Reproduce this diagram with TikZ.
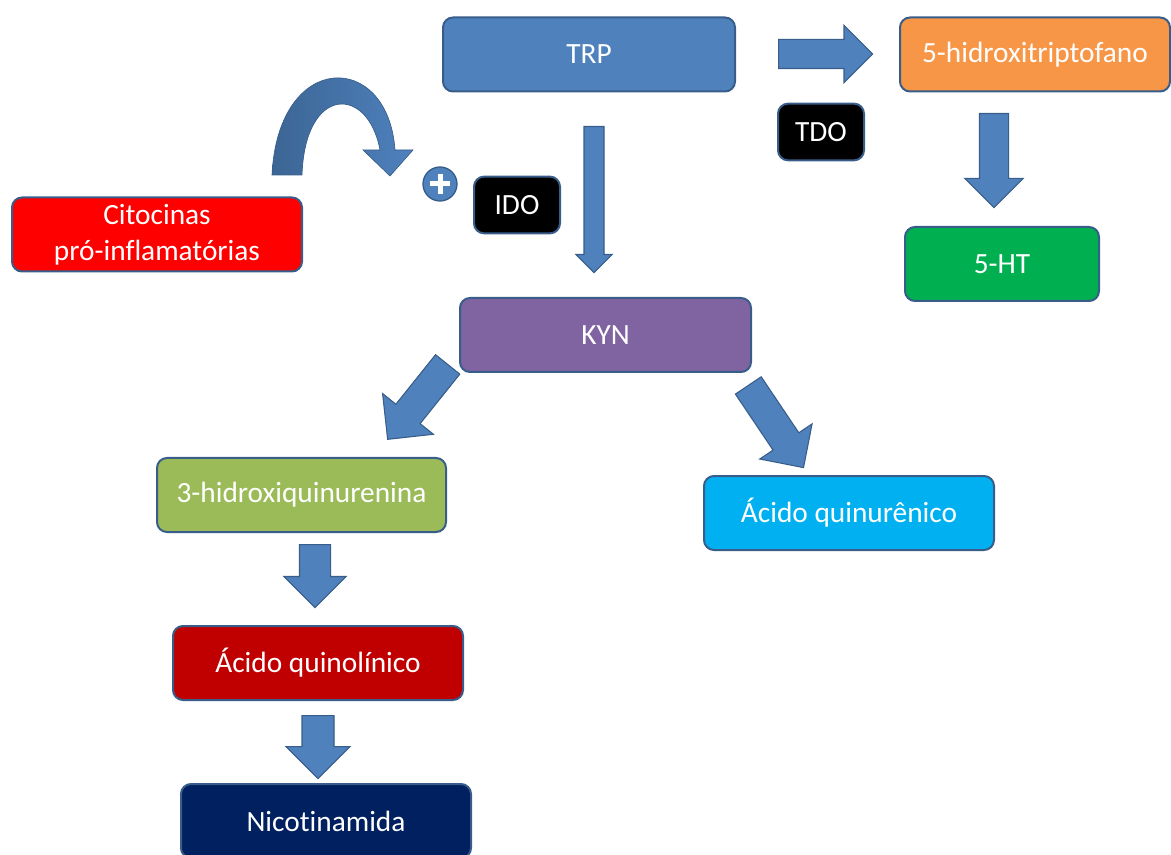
\documentclass[tikz,border=0pt]{standalone}
\usepackage{fontspec}
\setmainfont{Carlito}[Ligatures=NoCommon]
\usetikzlibrary{shapes.arrows}

\definecolor{trpBlue}{HTML}{4F81BD}
\definecolor{boxLine}{HTML}{385D8A}
\definecolor{htpOrange}{HTML}{F79646}
\definecolor{htGreen}{HTML}{00B050}
\definecolor{kynPurple}{HTML}{8064A2}
\definecolor{hkGreen}{HTML}{9BBB59}
\definecolor{kaBlue}{HTML}{00B0F0}
\definecolor{qaRed}{HTML}{C00000}
\definecolor{nicNavy}{HTML}{002060}
\definecolor{curveDark}{HTML}{3B6594}

\begin{document}
\begin{tikzpicture}[x=0.75pt, y=-0.75pt,
  box/.style={draw=boxLine, line width=1.5pt, rounded corners=7.5pt, text=white,
    font=\fontsize{22}{27}\selectfont, align=center, inner sep=0pt,
    minimum width=217.5pt, minimum height=55.5pt},
  enzyme/.style={box, fill=black, minimum width=64.5pt, minimum height=42.5pt},
  blockarrow/.style={single arrow, draw=boxLine, line width=0.8pt, fill=trpBlue,
    inner xsep=0pt, anchor=tail, single arrow head extend=#1}]
\useasboundingbox (0,0) rectangle (1171,855);

% metabolites
\node[box, fill=trpBlue, minimum width=219pt] (trp) at (589,54.5) {TRP};
\node[box, fill=htpOrange, minimum width=202.5pt] (htp) at (1035,54.5) {5-hidroxitriptofano};
\node[box, fill=htGreen, minimum width=145.5pt] (ht) at (1002,264) {5-HT};
\node[box, fill=red] (cito) at (157,234.5) {Citocinas\\pró-inflamatórias};
\node[box, fill=kynPurple, minimum width=218.25pt] (kyn) at (605.5,335) {KYN};
\node[box, fill=hkGreen, minimum width=216.75pt] (hk) at (301.5,495) {3-hidroxiquinurenina};
\node[box, fill=kaBlue] (ka) at (849,513) {Ácido quinurênico};
\node[box, fill=qaRed] (qa) at (318,663) {Ácido quinolínico};
\node[box, fill=nicNavy] (nic) at (326,821) {Nicotinamida};

% enzymes
\node[enzyme] (tdo) at (821,132) {TDO};
\node[enzyme] (ido) at (517,205) {IDO};

% block arrows
\node[blockarrow=10.5pt, minimum height=70.5pt, inner ysep=10.5pt] (toHtp) at (778,54) {};
\node[blockarrow=6pt, minimum height=109.5pt, inner ysep=7.1pt, rotate=-90] (toKyn) at (594,126) {};
\node[blockarrow=10.9pt, minimum height=70.5pt, inner ysep=10.5pt, rotate=-90] (toHt) at (994,113) {};
\node[blockarrow=12.75pt, minimum height=72pt, inner ysep=11.25pt, rotate=231.3] (toHk) at (448,364) {};
\node[blockarrow=12pt, minimum height=74.25pt, inner ysep=11.25pt, rotate=-56.1] (toKa) at (748,385) {};
\node[blockarrow=11.6pt, minimum height=47.25pt, inner ysep=11.25pt, rotate=-90] (toQa) at (315,544) {};
\node[blockarrow=12pt, minimum height=47.25pt, inner ysep=11.6pt, rotate=-90] (toNic) at (318,715) {};

% curved arrow from the cytokines
\shade[left color=curveDark, right color=trpBlue, draw=boxLine, line width=0.5pt]
  (272,175) .. controls (278,50) and (388,50) .. (395,150)
  -- (413,150) -- (390,176) -- (363,150) -- (380,150)
  .. controls (368,85) and (305,85) .. (302,175) -- cycle;

% plus sign
\node[circle, draw=boxLine, line width=1pt, fill=trpBlue, minimum size=25.5pt, inner sep=0pt] (plus) at (440,184) {};
\draw[white, line width=3.75pt] (plus.center) ++(-10,0) -- ++(20,0);
\draw[white, line width=3.75pt] (plus.center) ++(0,-10) -- ++(0,20);
\end{tikzpicture}
\end{document}
